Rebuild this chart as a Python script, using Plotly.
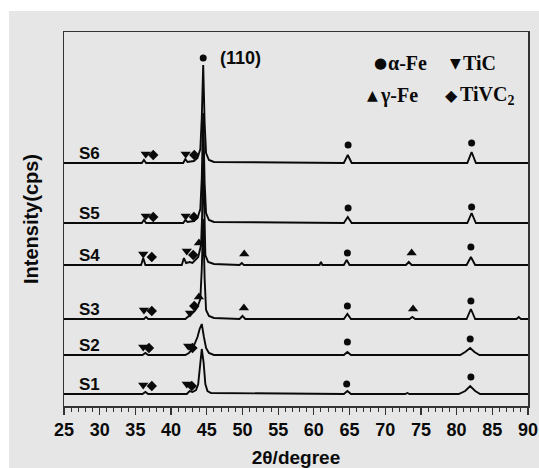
import plotly.graph_objects as go

# ---------------- data ----------------
samples = ["S1", "S2", "S3", "S4", "S5", "S6"]
offsets = [12, 51, 87, 141, 183, 243]

tt_S1 = [25, 36.0, 36.4, 36.8, 42.2, 42.6, 43.0, 43.5, 43.8, 44.05, 44.3, 44.55, 44.8, 45.1, 45.6, 64.2, 64.7, 65.2, 72.8, 73.1, 73.4, 80.3, 81.2, 81.9, 82.6, 83.3, 90]
it_S1 = [0, 0, 2, 0, 0, 3, 2, 4, 10, 30, 45, 32, 10, 3, 1, 0, 3, 0, 0, 1, 0, 0, 3, 8, 3, 0, 0]

tt_S2 = [25, 36.0, 36.4, 36.8, 42.0, 42.5, 43.0, 43.35, 43.7, 44.0, 44.3, 44.6, 44.9, 45.3, 46.0, 64.2, 64.7, 65.2, 80.5, 81.2, 81.9, 82.5, 83.2, 90]
it_S2 = [0, 0, 2, 0, 0, 2, 6, 12, 18, 26, 31, 18, 7, 2, 0, 0, 3, 0, 0, 3, 7, 3, 0, 0]

tt_S3 = [25, 36.2, 36.5, 36.8, 42.0, 42.5, 42.9, 43.3, 43.7, 44.1, 44.3, 44.5, 44.7, 44.9, 45.3, 46.0, 49.6, 50.0, 50.4, 64.2, 64.7, 65.2, 73.4, 73.8, 74.2, 81.4, 82.0, 82.6, 88.4, 88.7, 89.0, 90]
it_S3 = [0, 0, 2, 0, 0, 3, 5, 8, 12, 20, 50, 100, 40, 9, 3, 1, 0, 3, 0, 0, 5, 0, 0, 2, 0, 0, 10, 0, 0, 2, 0, 0]

tt_S4 = [25, 35.8, 36.1, 36.4, 41.5, 41.8, 42.1, 42.6, 43.0, 43.4, 43.8, 44.2, 44.35, 44.5, 44.65, 44.8, 45.2, 46.0, 49.6, 49.9, 50.2, 60.8, 61.0, 61.2, 64.2, 64.6, 65.0, 72.9, 73.3, 73.7, 81.4, 82.0, 82.6, 90]
it_S4 = [0, 0, 7, 0, 0, 7, 2, 3, 2, 5, 8, 20, 50, 110, 40, 10, 3, 1, 0, 2, 0, 0, 3, 0, 0, 5, 0, 0, 3, 0, 0, 8, 0, 0]

tt_S5 = [25, 35.9, 36.2, 36.5, 41.7, 42.0, 42.3, 43.2, 43.7, 44.1, 44.3, 44.5, 44.7, 44.9, 45.3, 46.0, 64.2, 64.75, 65.3, 81.5, 82.1, 82.7, 90]
it_S5 = [0, 0, 3, 0, 0, 3, 1, 2, 5, 14, 45, 110, 40, 10, 3, 1, 0, 6, 0, 0, 10, 0, 0]

tt_S6 = [25, 35.9, 36.2, 36.5, 41.7, 42.0, 42.3, 43.2, 43.7, 44.1, 44.3, 44.5, 44.7, 44.9, 45.3, 46.0, 64.2, 64.75, 65.3, 81.5, 82.1, 82.7, 90]
it_S6 = [0, 0, 3, 0, 0, 4, 1, 2, 5, 14, 45, 98, 40, 10, 3, 1, 0, 8, 0, 0, 11, 0, 0]

two_theta = [tt_S1, tt_S2, tt_S3, tt_S4, tt_S5, tt_S6]
intensity = [it_S1, it_S2, it_S3, it_S4, it_S5, it_S6]

# phase markers (2theta, stacked intensity)
alpha_x = [44.5, 64.8, 82.1, 64.8, 82.1, 64.7, 82.0, 64.7, 82.0, 64.7, 81.9, 64.6, 82.0]
alpha_y = [348, 261, 263, 198, 199, 153, 159, 100, 105, 64, 67, 22, 29]

tic_x = [36.45, 42.05, 36.45, 42.05, 36.1, 42.2, 36.2, 42.65, 36.1, 42.4, 36.1, 42.2]
tic_y = [252, 252, 190, 190, 152, 155, 96, 93, 59, 60, 21, 22]

gamma_x = [43.9, 50.25, 73.7, 43.9, 50.2, 73.9]
gamma_y = [163, 152, 153, 109, 98, 97]

tivc_x = [37.5, 43.25, 37.5, 43.2, 37.3, 43.1, 37.3, 43.25, 36.9, 43.0, 37.3, 42.9]
tivc_y = [251, 251, 189, 189, 149, 151, 95, 100, 58, 58, 20, 20]

x_ticks = [25, 30, 35, 40, 45, 50, 55, 60, 65, 70, 75, 80, 85, 90]

legend_symbols = ["●", "▼", "▲", "◆"]
legend_labels = ["α-Fe", "TiC", "γ-Fe", "TiVC<sub>2</sub>"]

# ---------------- figure ----------------
BG = "#e6e6e6"
AX = "#333333"
INK = "#0a0a0a"
fig = go.Figure()

for name, xs, ys, off in zip(samples, two_theta, intensity, offsets):
    fig.add_trace(go.Scatter(
        x=xs, y=[v + off for v in ys], mode="lines",
        line=dict(color=INK, width=1.9),
        showlegend=False, name=name, hoverinfo="skip"))

mk = dict(color=INK)
fig.add_trace(go.Scatter(x=alpha_x, y=alpha_y, mode="markers", name="α-Fe",
                         marker=dict(symbol="circle", size=7, **mk), showlegend=False))
fig.add_trace(go.Scatter(x=gamma_x, y=gamma_y, mode="markers", name="γ-Fe",
                         marker=dict(symbol="triangle-up", size=9, **mk), showlegend=False))
fig.add_trace(go.Scatter(x=tic_x, y=tic_y, mode="markers", name="TiC",
                         marker=dict(symbol="triangle-down", size=9, **mk), showlegend=False))
fig.add_trace(go.Scatter(x=tivc_x, y=tivc_y, mode="markers", name="TiVC2",
                         marker=dict(symbol="diamond", size=8, **mk), showlegend=False))

# sample labels
for name, off in zip(samples, offsets):
    fig.add_annotation(x=26.8, y=off + 10, text=name, showarrow=False,
                       xanchor="left", yanchor="middle",
                       font=dict(family="Liberation Sans", size=17, color=INK, weight="bold"))

fig.add_annotation(x=46.6, y=348, text="(110)", showarrow=False,
                   xanchor="left", yanchor="middle",
                   font=dict(family="Liberation Sans", size=18, color=INK, weight="bold"))

# phase key: symbol glyphs + labels (screen-pixel anchors relative to plot frame)
def px2paper(px, py):
    return (px - 64) / 464, (406 - py) / 374

sym_pos = [(380, 63), (455, 63), (372, 95), (451, 95)]
sym_size = [15, 14, 14, 16]
lab_pos = [(386, 63), (461, 63), (378, 95), (458, 95)]
for s, (sx, sy), ss in zip(legend_symbols, sym_pos, sym_size):
    xp, yp = px2paper(sx, sy)
    fig.add_annotation(xref="paper", yref="paper", x=xp, y=yp, text=s,
                       showarrow=False, xanchor="center", yanchor="middle",
                       font=dict(family="DejaVu Sans", size=ss, color=INK))
for lbl, (lx, ly) in zip(legend_labels, lab_pos):
    xp, yp = px2paper(lx, ly)
    fig.add_annotation(xref="paper", yref="paper", x=xp, y=yp, text=lbl,
                       showarrow=False, xanchor="left", yanchor="middle",
                       font=dict(family="Liberation Serif", size=20, color=INK, weight="bold"))

fig.update_layout(
    width=539, height=468,
    margin=dict(l=64, r=11, t=32, b=62, autoexpand=False),
    paper_bgcolor="white",
    plot_bgcolor=BG,
    showlegend=False,
    hovermode=False,
    shapes=[dict(type="rect", xref="paper", yref="paper",
                 x0=-55 / 464, x1=1.1, y0=-0.3, y1=1.056,
                 fillcolor=BG, line=dict(width=0), layer="below")],
)

fig.update_xaxes(
    range=[25, 90], tickvals=x_ticks, ticktext=[str(t) for t in x_ticks],
    ticks="outside", ticklen=7, tickwidth=1.2, tickcolor=AX,
    minor=dict(dtick=1, ticks="outside", ticklen=4, tickwidth=1, tickcolor=AX),
    showline=True, linecolor=AX, linewidth=1.5, mirror=True,
    showgrid=False, zeroline=False, automargin=False,
    ticklabeloverflow="allow",
    tickfont=dict(family="Liberation Sans", size=18, color=INK, weight="bold"),
    title=dict(text="2θ/degree", standoff=15,
               font=dict(family="Liberation Sans", size=19, color=INK, weight="bold")),
)
fig.update_yaxes(
    range=[0, 374], showticklabels=False, ticks="",
    showline=True, linecolor=AX, linewidth=1.5, mirror=True,
    showgrid=False, zeroline=False, automargin=False,
    title=dict(text="Intensity(cps)", standoff=18,
               font=dict(family="Liberation Sans", size=20, color=INK, weight="bold")),
)

fig.write_html("out.html",
               config={"displayModeBar": False, "staticPlot": True},
               post_script="document.body.style.margin='0';"
                           "document.documentElement.style.overflow='hidden';"
                           "document.body.style.overflow='hidden';")
